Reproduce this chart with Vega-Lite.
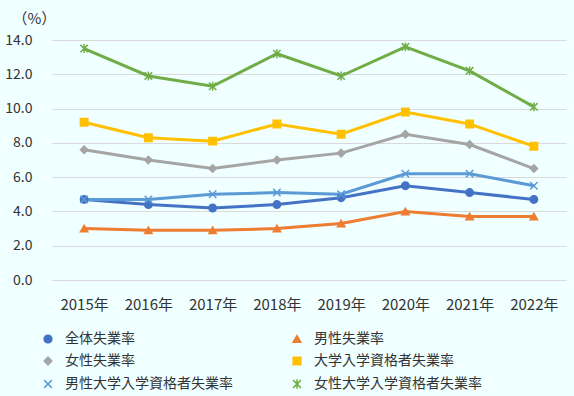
{
  "$schema": "https://vega.github.io/schema/vega-lite/v6.json",
  "width": 514,
  "height": 240,
  "autosize": {"type": "none"},
  "padding": {"left": 52, "top": 40, "right": 8, "bottom": 116},
  "background": "#F0FFFF",
  "config": {"font": "Noto Sans CJK JP", "view": {"stroke": null}},
  "data": {"values": [
    {"year": "2015年", "series": "全体失業率", "value": 4.7},
    {"year": "2016年", "series": "全体失業率", "value": 4.4},
    {"year": "2017年", "series": "全体失業率", "value": 4.2},
    {"year": "2018年", "series": "全体失業率", "value": 4.4},
    {"year": "2019年", "series": "全体失業率", "value": 4.8},
    {"year": "2020年", "series": "全体失業率", "value": 5.5},
    {"year": "2021年", "series": "全体失業率", "value": 5.1},
    {"year": "2022年", "series": "全体失業率", "value": 4.7},
    {"year": "2015年", "series": "男性失業率", "value": 3.0},
    {"year": "2016年", "series": "男性失業率", "value": 2.9},
    {"year": "2017年", "series": "男性失業率", "value": 2.9},
    {"year": "2018年", "series": "男性失業率", "value": 3.0},
    {"year": "2019年", "series": "男性失業率", "value": 3.3},
    {"year": "2020年", "series": "男性失業率", "value": 4.0},
    {"year": "2021年", "series": "男性失業率", "value": 3.7},
    {"year": "2022年", "series": "男性失業率", "value": 3.7},
    {"year": "2015年", "series": "女性失業率", "value": 7.6},
    {"year": "2016年", "series": "女性失業率", "value": 7.0},
    {"year": "2017年", "series": "女性失業率", "value": 6.5},
    {"year": "2018年", "series": "女性失業率", "value": 7.0},
    {"year": "2019年", "series": "女性失業率", "value": 7.4},
    {"year": "2020年", "series": "女性失業率", "value": 8.5},
    {"year": "2021年", "series": "女性失業率", "value": 7.9},
    {"year": "2022年", "series": "女性失業率", "value": 6.5},
    {"year": "2015年", "series": "大学入学資格者失業率", "value": 9.2},
    {"year": "2016年", "series": "大学入学資格者失業率", "value": 8.3},
    {"year": "2017年", "series": "大学入学資格者失業率", "value": 8.1},
    {"year": "2018年", "series": "大学入学資格者失業率", "value": 9.1},
    {"year": "2019年", "series": "大学入学資格者失業率", "value": 8.5},
    {"year": "2020年", "series": "大学入学資格者失業率", "value": 9.8},
    {"year": "2021年", "series": "大学入学資格者失業率", "value": 9.1},
    {"year": "2022年", "series": "大学入学資格者失業率", "value": 7.8},
    {"year": "2015年", "series": "男性大学入学資格者失業率", "value": 4.7},
    {"year": "2016年", "series": "男性大学入学資格者失業率", "value": 4.7},
    {"year": "2017年", "series": "男性大学入学資格者失業率", "value": 5.0},
    {"year": "2018年", "series": "男性大学入学資格者失業率", "value": 5.1},
    {"year": "2019年", "series": "男性大学入学資格者失業率", "value": 5.0},
    {"year": "2020年", "series": "男性大学入学資格者失業率", "value": 6.2},
    {"year": "2021年", "series": "男性大学入学資格者失業率", "value": 6.2},
    {"year": "2022年", "series": "男性大学入学資格者失業率", "value": 5.5},
    {"year": "2015年", "series": "女性大学入学資格者失業率", "value": 13.5},
    {"year": "2016年", "series": "女性大学入学資格者失業率", "value": 11.9},
    {"year": "2017年", "series": "女性大学入学資格者失業率", "value": 11.3},
    {"year": "2018年", "series": "女性大学入学資格者失業率", "value": 13.2},
    {"year": "2019年", "series": "女性大学入学資格者失業率", "value": 11.9},
    {"year": "2020年", "series": "女性大学入学資格者失業率", "value": 13.6},
    {"year": "2021年", "series": "女性大学入学資格者失業率", "value": 12.2},
    {"year": "2022年", "series": "女性大学入学資格者失業率", "value": 10.1}
  ]},
  "encoding": {
    "x": {"field": "year", "type": "ordinal", "sort": null,
      "axis": {"title": null, "labelAngle": 0, "domain": false, "ticks": false, "labelPadding": 17, "labelFontSize": 15, "labelColor": "#333333"}},
    "y": {"field": "value", "type": "quantitative", "scale": {"domain": [0, 14], "nice": false},
      "axis": {"values": [0, 2, 4, 6, 8, 10, 12, 14], "format": ".1f", "domain": false, "ticks": false, "gridColor": "#D9D9D9", "labelPadding": 20, "labelFontSize": 14, "labelColor": "#333333",
        "title": "（%）", "titleAngle": 0, "titleAlign": "left", "titleBaseline": "middle", "titleX": -40, "titleY": -22, "titleFontSize": 15, "titleFontWeight": "normal", "titleColor": "#333333"}}
  },
  "layer": [
    {"mark": {"type": "line", "strokeWidth": 3},
     "encoding": {"stroke": {"field": "series", "type": "nominal", "sort": null,
       "scale": {"domain": ["全体失業率", "男性失業率", "女性失業率", "大学入学資格者失業率", "男性大学入学資格者失業率", "女性大学入学資格者失業率"],
                 "range": ["#4472C4", "#ED7D31", "#A5A5A5", "#FFC000", "#5B9BD5", "#70AD47"]},
       "legend": {"title": null, "orient": "none", "direction": "horizontal", "legendX": -11, "legendY": 292, "columns": 2, "columnPadding": 57, "rowPadding": 8, "labelFontSize": 14, "labelLimit": 400, "labelColor": "#333333", "symbolSize": 60, "symbolStrokeWidth": 1.5, "labelOffset": 10}}}},
    {"mark": {"type": "point", "filled": true, "size": 55, "strokeWidth": 1.5, "opacity": 1},
     "encoding": {
       "fill": {"field": "series", "type": "nominal", "sort": null,
         "scale": {"domain": ["全体失業率", "男性失業率", "女性失業率", "大学入学資格者失業率", "男性大学入学資格者失業率", "女性大学入学資格者失業率"],
                   "range": ["#4472C4", "#ED7D31", "#A5A5A5", "#FFC000", "#5B9BD5", "#70AD47"]}},
       "stroke": {"field": "series", "type": "nominal", "sort": null},
       "shape": {"field": "series", "type": "nominal", "sort": null,
         "scale": {"domain": ["全体失業率", "男性失業率", "女性失業率", "大学入学資格者失業率", "男性大学入学資格者失業率", "女性大学入学資格者失業率"],
                   "range": ["circle", "triangle-up", "diamond", "square", "M-1,-1L1,1M-1,1L1,-1", "M-1,-1L1,1M-1,1L1,-1M0,-1.2L0,1.2"]}}
     }}
  ]
}
